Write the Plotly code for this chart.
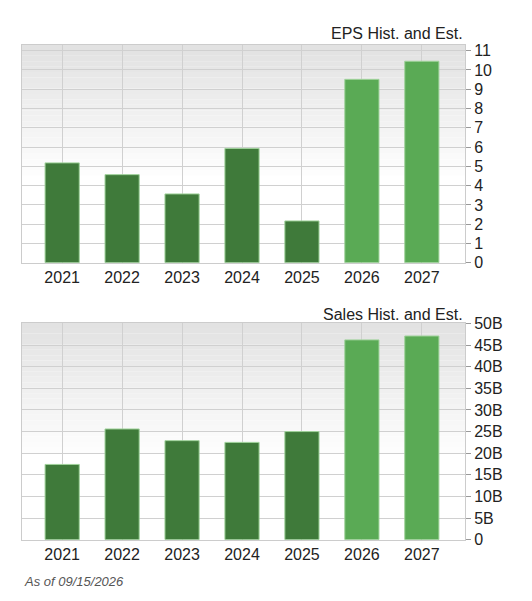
import plotly.graph_objects as go

years = ["2021", "2022", "2023", "2024", "2025", "2026", "2027"]
eps = [5.18, 4.57, 3.57, 5.93, 2.17, 9.51, 10.45]
sales = [17.4, 25.6, 22.9, 22.5, 25.0, 46.2, 47.1]  # billions
is_estimate = [False, False, False, False, False, True, True]

eps_ticks = list(range(0, 12))
sales_ticks = [0, 5, 10, 15, 20, 25, 30, 35, 40, 45, 50]
sales_labels = ["0"] + [f"{v}B" for v in sales_ticks[1:]]

dark, light = "#3f7a3a", "#5aaa55"
colors = [light if e else dark for e in is_estimate]
font = "Liberation Sans, Arial, sans-serif"

fig = go.Figure()
fig.add_trace(go.Bar(x=years, y=eps, marker=dict(color=colors, line=dict(color="#9fd29a", width=1)),
                     width=0.57, xaxis="x", yaxis="y", showlegend=False))
fig.add_trace(go.Bar(x=years, y=sales, marker=dict(color=colors, line=dict(color="#9fd29a", width=1)),
                     width=0.57, xaxis="x2", yaxis="y2", showlegend=False))

ax_common = dict(showgrid=True, gridcolor="#d0d0d0", gridwidth=1, zeroline=False,
                 showline=True, linecolor="#cccccc", mirror=True,
                 tickfont=dict(family=font, size=16, color="#222"))
fig.update_layout(
    width=532, height=601, margin=dict(l=14, r=75, t=0, b=0),
    paper_bgcolor="white", plot_bgcolor="rgba(0,0,0,0)", bargap=0.43,
    font=dict(family=font),
    xaxis=dict(domain=[0, 1], anchor="y", range=[-0.67, 6.72], ticks="", ticklen=0, **ax_common),
    yaxis=dict(domain=[0.5774, 0.9506], side="right", range=[0, 11.3], tickvals=eps_ticks,
               ticks="outside", ticklen=5, tickcolor="#999", **ax_common),
    xaxis2=dict(domain=[0, 1], anchor="y2", range=[-0.67, 6.72], ticks="", **ax_common),
    yaxis2=dict(domain=[0.1033, 0.4750], side="right", range=[0, 50.2], tickvals=sales_ticks,
                ticktext=sales_labels, ticks="outside", ticklen=5, tickcolor="#999", **ax_common),
)

# gradient backgrounds (gray at top fading to white)
shapes = []
n = 24
for yref in ["y domain", "y2 domain"]:
    xref = "x domain" if yref == "y domain" else "x2 domain"
    for i in range(n):
        t = i / n
        g = int(226 + (255 - 226) * t)
        y1 = 1 - t * 0.6
        y0 = 1 - (t + 1 / n) * 0.6
        shapes.append(dict(type="rect", xref=xref, yref=yref, x0=0, x1=1, y0=y0, y1=y1,
                           fillcolor=f"rgb({g},{g},{g})", line=dict(width=0), layer="below"))
fig.update_layout(shapes=shapes)

fig.add_annotation(text="EPS Hist. and Est.", xref="paper", yref="paper", x=1, y=0.9506,
                   xanchor="right", yanchor="bottom", showarrow=False, yshift=1,
                   font=dict(family=font, size=16, color="#222"))
fig.add_annotation(text="Sales Hist. and Est.", xref="paper", yref="paper", x=1, y=0.4750,
                   xanchor="right", yanchor="bottom", showarrow=False, yshift=-2,
                   font=dict(family=font, size=16, color="#222"))
fig.add_annotation(text="<i>As of 09/15/2026</i>", xref="paper", yref="paper", x=0, y=1 - 582 / 601,
                   xanchor="left", yanchor="middle", showarrow=False,
                   font=dict(family=font, size=13, color="#555"))

fig.write_html("out.html")
